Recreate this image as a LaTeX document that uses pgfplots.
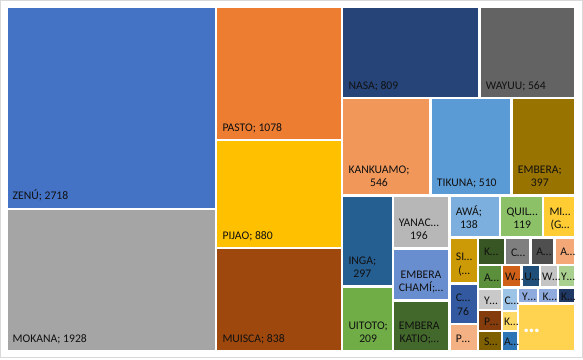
\documentclass[border=0pt]{standalone}
\usepackage{pgfplots}
\pgfplotsset{compat=1.18}
\usepackage{fontspec}
\setmainfont{Carlito}
\definecolor{txt}{HTML}{111111}
\definecolor{frame}{HTML}{D9D9D9}
\definecolor{cA}{HTML}{4472C4}
\definecolor{cB}{HTML}{A5A5A5}
\definecolor{cC}{HTML}{ED7D31}
\definecolor{cD}{HTML}{FFC000}
\definecolor{cE}{HTML}{9E480E}
\definecolor{cF}{HTML}{264478}
\definecolor{cG}{HTML}{636363}
\definecolor{cH}{HTML}{F1975A}
\definecolor{cI}{HTML}{5B9BD5}
\definecolor{cJ}{HTML}{997300}
\definecolor{cK}{HTML}{255E91}
\definecolor{cL}{HTML}{70AD47}
\definecolor{cM}{HTML}{B7B7B7}
\definecolor{cN}{HTML}{698ED0}
\definecolor{cO}{HTML}{43682B}
\definecolor{cP}{HTML}{7CAFDD}
\definecolor{cQ}{HTML}{8CC168}
\definecolor{cR}{HTML}{FFCD33}
\definecolor{cS}{HTML}{CC9A06}
\definecolor{cT}{HTML}{335AA1}
\definecolor{cU}{HTML}{F4B183}
\definecolor{cV}{HTML}{375623}
\definecolor{cW}{HTML}{7F7F7F}
\definecolor{cX}{HTML}{4F4F4F}
\definecolor{cY}{HTML}{F4A878}
\definecolor{cZ}{HTML}{5B8F3C}
\definecolor{da}{HTML}{D06018}
\definecolor{db}{HTML}{1F4E79}
\definecolor{dc}{HTML}{C4C4C4}
\definecolor{dd}{HTML}{A9D08E}
\definecolor{de}{HTML}{C9C9C9}
\definecolor{df}{HTML}{9DC3E6}
\definecolor{dg}{HTML}{8FAADC}
\definecolor{dh}{HTML}{203864}
\definecolor{di}{HTML}{843C0C}
\definecolor{dj}{HTML}{FFD966}
\definecolor{dk}{HTML}{7F6000}
\definecolor{dl}{HTML}{2E75B6}
\definecolor{dm}{HTML}{FFD34F}
\newcommand{\labfont}{\fontsize{11.7}{13.4}\selectfont}
\newcommand{\rect}[5]{\addplot[fill=#1,draw=none] coordinates {(#2,#3) (#4,#3) (#4,#5) (#2,#5)};}
\newcommand{\lab}[3]{\node[anchor=south west,inner sep=0pt,align=center,text=txt,font=\labfont] at (axis cs:#1,#2) {#3\strut};}
\newcommand{\labc}[3]{\node[anchor=west,inner sep=0pt,text=txt,font=\labfont] at (axis cs:#1,#2) {#3};}
\begin{document}
\begin{tikzpicture}
\begin{axis}[
  width=583bp, height=360bp, scale only axis,
  xmin=0, xmax=583, ymin=0, ymax=360, y dir=reverse,
  hide axis,
]
\rect{cA}{7.5}{8}{215.3}{207.7}
\rect{cB}{7.5}{210}{215.3}{350}
\rect{cC}{217.3}{8}{341.3}{139}
\rect{cD}{217.3}{141.3}{341.3}{246.7}
\rect{cE}{217.3}{249}{341.3}{350}
\rect{cF}{343.3}{8}{478}{96.7}
\rect{cG}{480.7}{8}{574.3}{96.7}
\rect{cH}{343.3}{99.3}{429.3}{194}
\rect{cI}{431.7}{99.3}{510.3}{194}
\rect{cJ}{512.7}{99.3}{574.3}{194}
\rect{cK}{343.3}{196.7}{391.7}{285}
\rect{cL}{343.3}{287.7}{391.7}{350}
\rect{cM}{393.7}{196.7}{448.3}{247.3}
\rect{cN}{393.7}{250}{448.3}{299.3}
\rect{cO}{393.7}{301.7}{448.3}{350}
\rect{cP}{450.7}{196.7}{499}{236}
\rect{cQ}{501.3}{196.7}{542}{236}
\rect{cR}{544.3}{196.7}{574.3}{236}
\rect{cS}{450.7}{238.7}{476.7}{281.7}
\rect{cT}{450.7}{284.7}{476.7}{322.7}
\rect{cU}{450.7}{325.3}{476.7}{350}
\rect{cV}{479.3}{238.7}{504.3}{264}
\rect{cW}{506.3}{238.7}{529.3}{264}
\rect{cX}{531.7}{238.7}{553.3}{264}
\rect{cY}{555.7}{238.7}{574.3}{264}
\rect{cZ}{479.3}{266.3}{501.3}{288.3}
\rect{da}{503.3}{266.3}{520.3}{286.3}
\rect{db}{522.7}{266.3}{539.3}{286.3}
\rect{dc}{541.3}{266.3}{557.3}{286.3}
\rect{dd}{559.3}{266.3}{574.3}{286.3}
\rect{de}{479.3}{290.3}{501.3}{309}
\rect{df}{503.3}{288.7}{517}{310}
\rect{dg}{519}{288.7}{536.7}{302.3}
\rect{dg}{539}{288.7}{557.3}{302.3}
\rect{dh}{559.3}{288.7}{574.3}{302.3}
\rect{di}{479.3}{311.3}{501.3}{330}
\rect{dj}{503.3}{312.3}{517}{329.5}
\rect{dk}{479.3}{332.3}{501.3}{350}
\rect{dl}{503.3}{331.7}{517}{350}
\rect{dm}{519}{304.7}{574.3}{350}
\path (axis cs:0,0) rectangle (axis cs:583,360);
\draw[frame,line width=0.8bp] (axis cs:0.5,0.5) rectangle (axis cs:582.5,357.5);
\lab{12.5}{203.4}{ZENÚ; 2718}
\lab{12.5}{346.7}{MOKANA; 1928}
\lab{222.3}{135.7}{PASTO; 1078}
\lab{222.3}{243.4}{PIJAO; 880}
\lab{222.3}{346.7}{MUISCA; 838}
\lab{348.3}{93.4}{NASA; 809}
\lab{485.7}{93.4}{WAYUU; 564}
\lab{348.3}{190.7}{KANKUAMO;\\546}
\lab{436.7}{190.7}{TIKUNA; 510}
\lab{517.7}{190.7}{EMBERA;\\397}
\lab{348.3}{281.7}{INGA;\\297}
\lab{348.3}{346.7}{UITOTO;\\209}
\lab{398.7}{244}{YANAC…\\196}
\lab{398.7}{296}{EMBERA\\CHAMÍ;…}
\lab{398.7}{346.7}{EMBERA\\KATIO;…}
\lab{455.7}{232.7}{AWÁ;\\138}
\lab{506.3}{232.7}{QUIL…\\119}
\lab{549.3}{232.7}{MI…\\(G…}
\lab{455.7}{278.4}{SI…\\(…}
\lab{455.7}{319.4}{C…\\76}
\lab{455.7}{346.7}{P…}
\labc{483.8}{252.3}{K…}
\labc{510.8}{252.3}{C…}
\labc{536.2}{252.3}{A…}
\labc{560.2}{252.3}{A…}
\labc{483.8}{278.3}{A…}
\labc{504.8}{277.3}{W…}
\labc{524.2}{277.3}{U…}
\labc{541.8}{277.3}{W…}
\labc{561}{277.3}{Y…}
\labc{483.8}{300.6}{Y…}
\labc{504.5}{300.3}{C…}
\labc{522}{296.5}{Y…}
\labc{542.5}{296.5}{K…}
\labc{561}{296.5}{K…}
\labc{483.8}{321.6}{P…}
\labc{504}{321.9}{K…}
\labc{483.8}{342.2}{S…}
\labc{504}{342.2}{A…}
\node[anchor=west,inner sep=0pt,text=white,font=\fontsize{24}{24}\selectfont\bfseries] at (axis cs:523,331) {…};
\end{axis}
\end{tikzpicture}
\end{document}
